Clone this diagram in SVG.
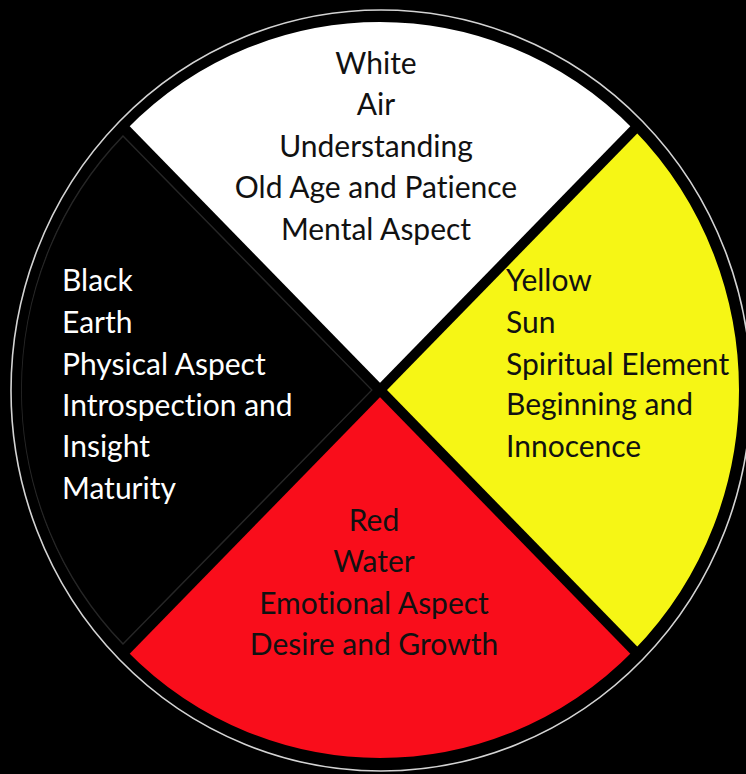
<svg xmlns="http://www.w3.org/2000/svg" width="746" height="774" viewBox="0 0 746 774">
  <style>
    .t { font-family: Lato, "Liberation Sans", sans-serif; font-size: 30px; font-variant-ligatures: none; }
    .dark { fill: #111111; }
    .light { fill: #ffffff; }
    .mid { text-anchor: middle; }
    .div { stroke: #000000; stroke-width: 10; fill: none; }
  </style>
  <rect x="0" y="0" width="746" height="774" fill="#000000"/>
  <ellipse cx="381" cy="390.5" rx="370" ry="380.5" fill="none" stroke="#d4d4d4" stroke-width="1.6"/>
  <g id="white-quadrant">
    <path d="M380,390 L125.4,129.1 A360,369 0 0 1 634.6,129.1 Z" fill="#ffffff"/>
    <text class="t dark mid" x="376" y="74">White</text>
    <text class="t dark mid" x="376" y="115">Air</text>
    <text class="t dark mid" x="376" y="157">Understanding</text>
    <text class="t dark mid" x="376" y="198">Old Age and Patience</text>
    <text class="t dark mid" x="376" y="240">Mental Aspect</text>
  </g>
  <g id="yellow-quadrant">
    <path d="M380,390 L634.6,129.1 A360,369 0 0 1 634.6,650.9 Z" fill="#f6f615"/>
    <text class="t dark" x="506" y="291">Yellow</text>
    <text class="t dark" x="506" y="333">Sun</text>
    <text class="t dark" x="506" y="375">Spiritual Element</text>
    <text class="t dark" x="506" y="415">Beginning and</text>
    <text class="t dark" x="506" y="457">Innocence</text>
  </g>
  <g id="red-quadrant">
    <path d="M380,390 L634.6,650.9 A360,369 0 0 1 125.4,650.9 Z" fill="#f90d1b"/>
    <text class="t dark mid" x="374" y="531">Red</text>
    <text class="t dark mid" x="374" y="572">Water</text>
    <text class="t dark mid" x="374" y="614">Emotional Aspect</text>
    <text class="t dark mid" x="374" y="655">Desire and Growth</text>
  </g>
  <g id="black-quadrant">
    <path d="M372,390 L123,136 A352,361 0 0 0 123,644 Z" fill="#000000" stroke="#262626" stroke-width="1.5"/>
    <text class="t light" x="62" y="291">Black</text>
    <text class="t light" x="62" y="333">Earth</text>
    <text class="t light" x="62" y="375">Physical Aspect</text>
    <text class="t light" x="62" y="416">Introspection and</text>
    <text class="t light" x="62" y="457">Insight</text>
    <text class="t light" x="62" y="499">Maturity</text>
  </g>
  <g id="connectors">
    <line class="div" x1="380" y1="390" x2="120" y2="123.5"/>
    <line class="div" x1="380" y1="390" x2="640" y2="123.5"/>
    <line class="div" x1="380" y1="390" x2="120" y2="656.5"/>
    <line class="div" x1="380" y1="390" x2="640" y2="656.5"/>
    <ellipse cx="380" cy="390" rx="360" ry="369" fill="none" stroke="#000000" stroke-width="2"/>
  </g>
</svg>
